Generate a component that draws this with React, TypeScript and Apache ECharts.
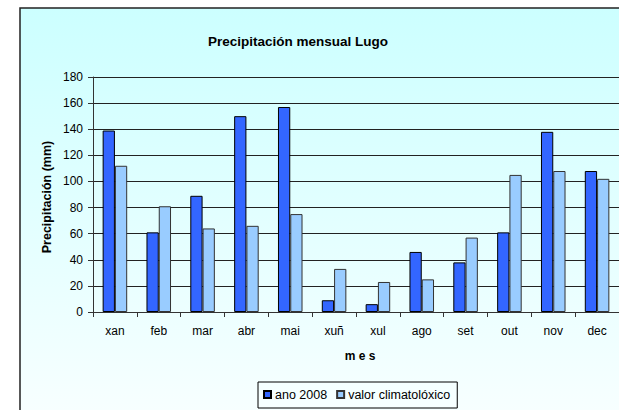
import React, { useEffect, useRef } from "react";
import * as echarts from "echarts";

const months = ["xan", "feb", "mar", "abr", "mai", "xuñ", "xul", "ago", "set", "out", "nov", "dec"];
const ano2008 = [139, 61, 89, 150, 157, 9, 6, 46, 38, 61, 138, 108];
const climatoloxico = [112, 81, 64, 66, 75, 33, 23, 25, 57, 105, 108, 102];
const yTicks = { min: 0, max: 180, interval: 20 };

const FONT = "'Liberation Sans', Arial, sans-serif";

export default function App() {
  const ref = useRef<HTMLDivElement>(null);
  useEffect(() => {
    if (!ref.current) return;
    const chart = echarts.init(ref.current, null, { renderer: "svg" });
    chart.setOption({
      animation: false,
      backgroundColor: "#ffffff",
      textStyle: { fontFamily: FONT },
      graphic: [
        {
          type: "rect",
          z: -10,
          silent: true,
          shape: { x: 20, y: 8, width: 640, height: 440 },
          style: {
            fill: new echarts.graphic.LinearGradient(0, 0, 0, 1, [
              { offset: 0, color: "#ccffff" },
              { offset: 1, color: "#fbffff" },
            ]),
            stroke: "#222222",
            lineWidth: 1.5,
          },
        },
        {
          type: "text",
          x: 298,
          y: 41,
          style: {
            text: "Precipitación mensual Lugo",
            font: `bold 13.5px ${FONT}`,
            fill: "#000",
            align: "center",
            verticalAlign: "middle",
          },
        },
        {
          type: "text",
          x: 47,
          y: 197,
          rotation: Math.PI / 2,
          style: {
            text: "Precipitación (mm)",
            font: `bold 12.5px ${FONT}`,
            fill: "#000",
            align: "center",
            verticalAlign: "middle",
          },
        },
        {
          type: "text",
          x: 360,
          y: 356,
          style: {
            text: "m e s",
            font: `bold 12px ${FONT}`,
            fill: "#000",
            align: "center",
            verticalAlign: "middle",
          },
        },
      ],
      legend: {
        left: 258,
        top: 382,
        orient: "horizontal",
        icon: "rect",
        itemWidth: 7,
        itemHeight: 7,
        itemGap: 9,
        padding: [6, 7, 7, 5],
        borderColor: "#000",
        borderWidth: 1,
        backgroundColor: "transparent",
        textStyle: { fontSize: 12.5, color: "#000", fontFamily: FONT, padding: [0, 0, 0, -1] },
        data: ["ano 2008", "valor climatolóxico"],
      },
      grid: { left: 93, top: 77, width: 534, height: 235, containLabel: false },
      xAxis: {
        type: "category",
        data: months,
        boundaryGap: true,
        axisLine: { show: true, lineStyle: { color: "#333", width: 1 } },
        axisTick: { show: true, length: 5, lineStyle: { color: "#333" } },
        axisLabel: { fontSize: 12, color: "#000", margin: 13, fontFamily: FONT, interval: 0 },
        splitLine: { show: false },
      },
      yAxis: {
        type: "value",
        min: yTicks.min,
        max: yTicks.max,
        interval: yTicks.interval,
        axisLine: { show: true, lineStyle: { color: "#333", width: 1 } },
        axisTick: { show: true, length: 5, lineStyle: { color: "#333" } },
        axisLabel: { fontSize: 12, color: "#000", margin: 10, fontFamily: FONT },
        splitLine: { show: true, lineStyle: { color: "#222", width: 1 } },
      },
      series: [
        {
          name: "ano 2008",
          type: "bar",
          data: ano2008,
          barGap: "0%",
          barCategoryGap: "44%",
          itemStyle: { color: "#3366ff", borderColor: "#000", borderWidth: 1 },
        },
        {
          name: "valor climatolóxico",
          type: "bar",
          data: climatoloxico,
          barGap: "0%",
          barCategoryGap: "44%",
          itemStyle: { color: "#99ccff", borderColor: "#333", borderWidth: 1 },
        },
      ],
    });
    return () => chart.dispose();
  }, []);
  return (
    <div
      ref={ref}
      style={{ position: "fixed", left: 0, top: 0, width: 619, height: 410 }}
    />
  );
}
